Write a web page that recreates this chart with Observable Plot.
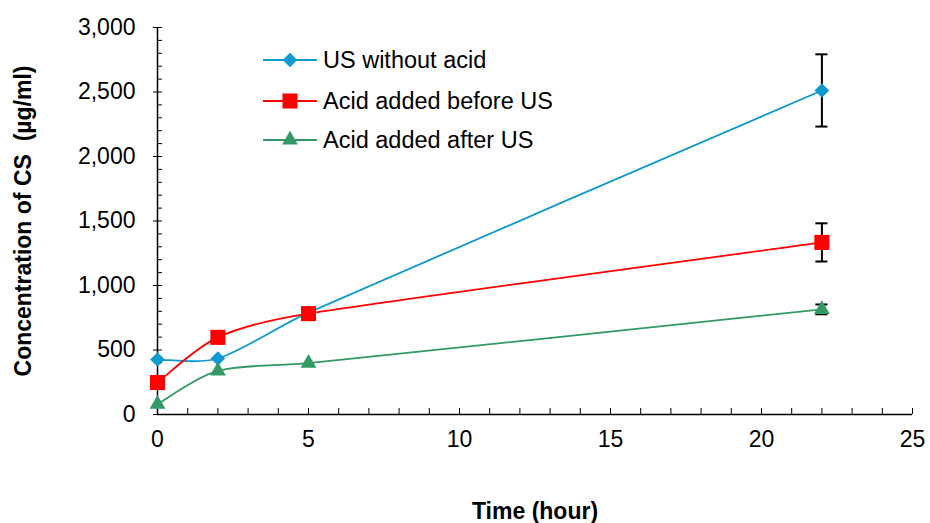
<!DOCTYPE html>
<html>
<head>
<meta charset="utf-8">
<script src="https://cdn.jsdelivr.net/npm/d3@7"></script>
<script src="https://cdn.jsdelivr.net/npm/@observablehq/plot@0.6"></script>
<style>
  html, body { margin: 0; padding: 0; background: #fff; }
  #wrap { position: relative; width: 930px; height: 523px; font-family: "Liberation Sans", Arial, sans-serif; }
  #legend { position: absolute; left: 0; top: 0; pointer-events: none; }
</style>
</head>
<body>
<div id="wrap"></div>
<script>
// ---- data ----
const timeHours = [0, 2, 5, 22];
const usWithoutAcid = [426, 434, 790, 2512];
const acidBeforeUS = [248, 598, 782, 1334];
const acidAfterUS = [80, 338, 398, 815];
const errUsWithoutAcid = [0, 0, 0, 280];
const errAcidBefore = [0, 0, 0, 148];
const errAcidAfter = [0, 0, 0, 38];
const seriesNames = ["US without acid", "Acid added before US", "Acid added after US"];
const seriesColors = ["#0f9ad0", "#ff0000", "#339966"];
const seriesSymbols = ["diamond2", "square", "triangle"];
const seriesR = [6.6, 8.5, 5.9];
const xTicks = [0, 5, 10, 15, 20, 25];
const yTicks = [0, 500, 1000, 1500, 2000, 2500, 3000];
const xLabel = "Time (hour)";
const yLabel = "Concentration of CS\u00a0\u00a0(\u00b5g/ml)";

const valuesList = [usWithoutAcid, acidBeforeUS, acidAfterUS];
const errList = [errUsWithoutAcid, errAcidBefore, errAcidAfter];
const rows = [];
seriesNames.forEach((s, i) => {
  timeHours.forEach((t, j) => {
    rows.push({series: s, idx: i, x: t, y: valuesList[i][j], e: errList[i][j]});
  });
});
const errRows = rows.filter(d => d.e > 0);

// Spreadsheet-style smoothing: Catmull-Rom tangents (1/6) with arms clamped to 1/3 of the segment
function SmoothCurve(context) { this._ctx = context; }
SmoothCurve.prototype = {
  areaStart() {}, areaEnd() {},
  lineStart() { this._pts = []; },
  point(x, y) { this._pts.push([+x, +y]); },
  lineEnd() {
    const P = this._pts, n = P.length, c = this._ctx;
    if (!n) return;
    c.moveTo(P[0][0], P[0][1]);
    const dist = (a, b) => Math.hypot(b[0] - a[0], b[1] - a[1]);
    const D = P.map((p, i) => {
      const a = P[Math.max(0, i - 1)], b = P[Math.min(n - 1, i + 1)];
      return [b[0] - a[0], b[1] - a[1]];
    });
    const arm = (d, seg) => {
      const len = Math.hypot(d[0], d[1]) / 6;
      if (!len) return [0, 0];
      const k = Math.min(len, seg / 3) / (len * 6);
      return [d[0] * k, d[1] * k];
    };
    for (let i = 0; i < n - 1; i++) {
      const seg = dist(P[i], P[i + 1]);
      const a0 = arm(D[i], seg), a1 = arm(D[i + 1], seg);
      c.bezierCurveTo(P[i][0] + a0[0], P[i][1] + a0[1],
                      P[i + 1][0] - a1[0], P[i + 1][1] - a1[1],
                      P[i + 1][0], P[i + 1][1]);
    }
  }
};
const smooth = context => new SmoothCurve(context);

const marks = [];
// minor ticks (inward)
marks.push(Plot.axisY(d3.range(0, 3001, 100), {tickSize: -5, text: null, label: null}));
marks.push(Plot.axisX(d3.range(0, 26, 1), {tickSize: -6, text: null, label: null}));
// major ticks + labels
marks.push(Plot.axisY(yTicks, {tickSize: 4, tickPadding: 18, tickFormat: d3.format(","), fontSize: 23, label: null}));
marks.push(Plot.axisX(xTicks, {tickSize: 0, tickPadding: 16, fontSize: 23, label: null}));
// axis titles
marks.push(Plot.text([yLabel], {frameAnchor: "left", dx: -134, rotate: -90, fontWeight: "bold", fontSize: 23, text: d => d, lineAnchor: "middle", textAnchor: "middle"}));
marks.push(Plot.text([xLabel], {frameAnchor: "bottom", dy: 97, fontWeight: "bold", fontSize: 23, text: d => d, lineAnchor: "middle", textAnchor: "middle"}));
// axis lines
marks.push(Plot.ruleX([0], {stroke: "#000", strokeWidth: 1.5}));
marks.push(Plot.ruleY([0], {stroke: "#000", strokeWidth: 1.5}));
// lines
seriesNames.forEach((s, i) => {
  marks.push(Plot.line(rows.filter(d => d.idx === i), {x: "x", y: "y", stroke: seriesColors[i], strokeWidth: 1.8, curve: smooth}));
});
// error bars
marks.push(Plot.ruleX(errRows, {x: "x", y1: d => d.y - d.e, y2: d => d.y + d.e, stroke: "#000", strokeWidth: 2}));
marks.push(Plot.ruleY(errRows, {y: d => d.y - d.e, x1: d => d.x - 0.2, x2: d => d.x + 0.2, stroke: "#000", strokeWidth: 2}));
marks.push(Plot.ruleY(errRows, {y: d => d.y + d.e, x1: d => d.x - 0.2, x2: d => d.x + 0.2, stroke: "#000", strokeWidth: 2}));
// markers
seriesNames.forEach((s, i) => {
  marks.push(Plot.dot(rows.filter(d => d.idx === i), {x: "x", y: "y", fill: seriesColors[i], stroke: "none", symbol: seriesSymbols[i], r: seriesR[i]}));
});

const chart = Plot.plot({
  width: 930,
  height: 523,
  marginLeft: 157,
  marginRight: 18,
  marginTop: 27,
  marginBottom: 109,
  style: {fontFamily: "Liberation Sans, Arial, sans-serif", fontSize: "23px", color: "#000", background: "#fff"},
  x: {domain: [0, 25]},
  y: {domain: [0, 3000]},
  marks
});
const wrap = document.getElementById("wrap");
wrap.appendChild(chart);

// legend overlay
const ns = "http://www.w3.org/2000/svg";
const leg = document.createElementNS(ns, "svg");
leg.setAttribute("id", "legend");
leg.setAttribute("width", 930);
leg.setAttribute("height", 523);
const rowY = [60, 101, 140];
const symMap = {diamond2: d3.symbolDiamond2, square: d3.symbolSquare, triangle: d3.symbolTriangle};
seriesNames.forEach((s, i) => {
  const g = document.createElementNS(ns, "g");
  g.setAttribute("transform", `translate(0,${rowY[i]})`);
  const ln = document.createElementNS(ns, "line");
  ln.setAttribute("x1", 263); ln.setAttribute("x2", 317);
  ln.setAttribute("stroke", seriesColors[i]); ln.setAttribute("stroke-width", 1.8);
  g.appendChild(ln);
  const p = document.createElementNS(ns, "path");
  p.setAttribute("d", d3.symbol(symMap[seriesSymbols[i]], Math.PI * seriesR[i] * seriesR[i])());
  p.setAttribute("transform", "translate(290,0)");
  p.setAttribute("fill", seriesColors[i]);
  g.appendChild(p);
  const t = document.createElementNS(ns, "text");
  t.setAttribute("x", 323); t.setAttribute("y", 0); t.setAttribute("dy", "0.36em");
  t.setAttribute("font-size", 23.5);
  t.setAttribute("font-family", "Liberation Sans, Arial, sans-serif");
  t.textContent = s;
  g.appendChild(t);
  leg.appendChild(g);
});
wrap.appendChild(leg);
</script>
</body>
</html>
